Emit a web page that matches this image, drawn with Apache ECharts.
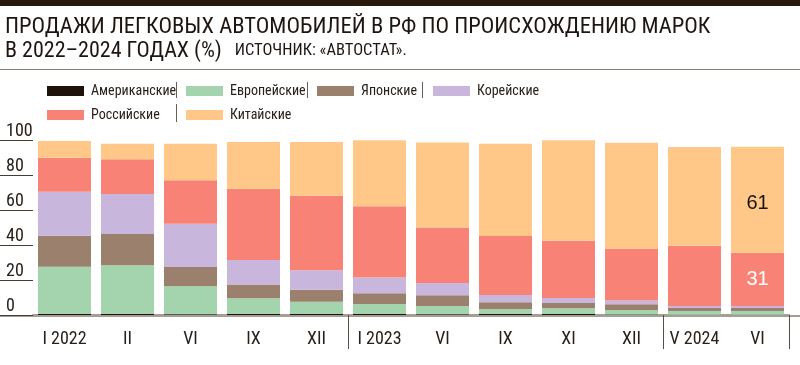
<!DOCTYPE html>
<html>
<head>
<meta charset="utf-8">
<script src="https://cdn.jsdelivr.net/npm/echarts@6/dist/echarts.min.js"></script>
<style>
html,body{margin:0;padding:0;background:#fff;}
#c{width:800px;height:365px;}
</style>
</head>
<body>
<div id="c"></div>
<script>
const categories = ['I 2022','II','VI','IX','XII','I 2023','VI','IX','XI','XII','V 2024','VI'];
const seriesNames = ['Американские','Европейские','Японские','Корейские','Российские','Китайские'];
const american = [0.6,0.6,0.5,0.6,0.6,0.6,0.5,0.6,0.6,0.3,0.2,0.2];
const european = [27.0,27.8,16.0,9.0,7.0,5.7,4.7,2.9,3.3,2.6,2.1,2.1];
const japanese = [17.7,17.9,10.9,7.8,6.9,6.1,6.1,3.8,2.9,3.3,1.7,1.7];
const korean   = [25.1,22.9,24.8,14.1,11.1,9.1,7.0,4.2,2.9,2.1,1.1,1.1];
const russian  = [19.4,19.8,24.8,40.6,42.5,40.6,31.7,33.7,32.7,29.7,34.5,30.5];
const chinese  = [9.7,8.8,20.8,26.7,30.7,37.7,48.6,52.6,57.5,60.4,56.4,60.6];
const yTicks = [0,20,40,60,80,100];

const colors = ['#1e120a','#a3d4ae','#9b806d','#c8b6dc','#f88275','#ffc889'];
const NARROW = '"Roboto Condensed","DejaVu Sans Condensed",sans-serif';
const TXT = '#2a201a';

const allData = [american, european, japanese, korean, russian, chinese];
const labelIdx = categories.length - 1;

const series = allData.map((d, i) => ({
  name: seriesNames[i],
  type: 'bar',
  stack: 'total',
  barWidth: 53,
  data: d,
  itemStyle: { color: colors[i] },
  emphasis: { disabled: true },
  label: (i === 4 || i === 5) ? {
    show: true,
    position: 'inside',
    fontFamily: '"Liberation Sans",Arial,sans-serif',
    fontSize: 20,
    color: i === 5 ? '#1a120c' : '#ffffff',
    offset: i === 5 ? [0, 4] : [0, 0],
    formatter: p => p.dataIndex === labelIdx ? String(Math.round(p.value)) : ''
  } : { show: false }
}));

const legendPos = [[47,84],[186,84],[317,84],[433,84],[47,108],[186,108]];
const legends = seriesNames.map((n, i) => ({
  data: [n],
  left: legendPos[i][0],
  top: legendPos[i][1],
  padding: 0,
  icon: 'rect',
  itemWidth: 37,
  itemHeight: 10,
  selectedMode: false,
  textStyle: { fontFamily: NARROW, fontSize: 14, color: TXT, padding: [0,0,0,2] }
}));

const sep = (x, y1, y2) => ({ type: 'line', shape: { x1: x, y1: y1, x2: x, y2: y2 }, style: { stroke: '#6b5f55', lineWidth: 1 }, silent: true });

const chart = echarts.init(document.getElementById('c'), null, { renderer: 'canvas' });
chart.setOption({
  animation: false,
  backgroundColor: '#ffffff',
  title: {
    left: 5, top: 15, padding: 0,
    text: '{a|ПРОДАЖИ ЛЕГКОВЫХ АВТОМОБИЛЕЙ В РФ ПО ПРОИСХОЖДЕНИЮ МАРОК}\n{c|В 2022–2024 ГОДАХ (%)}{s|    }{b|ИСТОЧНИК: «АВТОСТАТ».}',
    textStyle: {
      fontWeight: 'normal',
      rich: {
        a: { fontFamily: NARROW, fontSize: 22.6, fontWeight: 'normal', color: '#1e1510', lineHeight: 24 },
        c: { fontFamily: NARROW, fontSize: 22, fontWeight: 'normal', color: '#1e1510', lineHeight: 24 },
        s: { fontFamily: NARROW, fontSize: 14, fontWeight: 'normal', lineHeight: 24 },
        b: { fontFamily: NARROW, fontSize: 16.5, fontWeight: 'normal', color: '#1e1510', lineHeight: 24 }
      }
    }
  },
  legend: legends,
  graphic: [
    { type: 'rect', shape: { x: 0, y: 0, width: 800, height: 6 }, style: { fill: '#2a1a0e' }, silent: true },
    { type: 'line', shape: { x1: 0, y1: 69.5, x2: 800, y2: 69.5 }, style: { stroke: '#8a7d72', lineWidth: 1 }, silent: true },
    sep(176.5, 82, 98), sep(307.5, 82, 98), sep(422.5, 82, 98), sep(176.5, 104, 122),
    { type: 'line', shape: { x1: 0, y1: 316, x2: 800, y2: 316 }, style: { stroke: '#a59e94', lineWidth: 2 }, silent: true, z: -1 }
  ],
  grid: { left: 33, right: 11, top: 140, bottom: 50, containLabel: false },
  xAxis: {
    type: 'category',
    data: categories,
    axisLine: { show: true, lineStyle: { color: '#a59e94', width: 2 } },
    axisTick: {
      show: true,
      length: 34,
      interval: (i) => i === 5 || i === 10,
      lineStyle: { color: '#5a4e44', width: 1 }
    },
    axisLabel: { fontFamily: NARROW, fontSize: 18, color: TXT, margin: 15, interval: 0 }
  },
  yAxis: {
    type: 'value',
    min: 0, max: 100, interval: 20,
    axisLine: { show: false },
    splitLine: { show: false },
    axisTick: { show: true, length: 33, lineStyle: { color: '#4a3a30', width: 1 } },
    axisLabel: {
      fontFamily: NARROW, fontSize: 18, color: TXT,
      align: 'left', verticalAlign: 'bottom', margin: 27,
      formatter: v => yTicks.includes(v) ? String(v) : ''
    }
  },
  series: series
});
</script>
</body>
</html>
